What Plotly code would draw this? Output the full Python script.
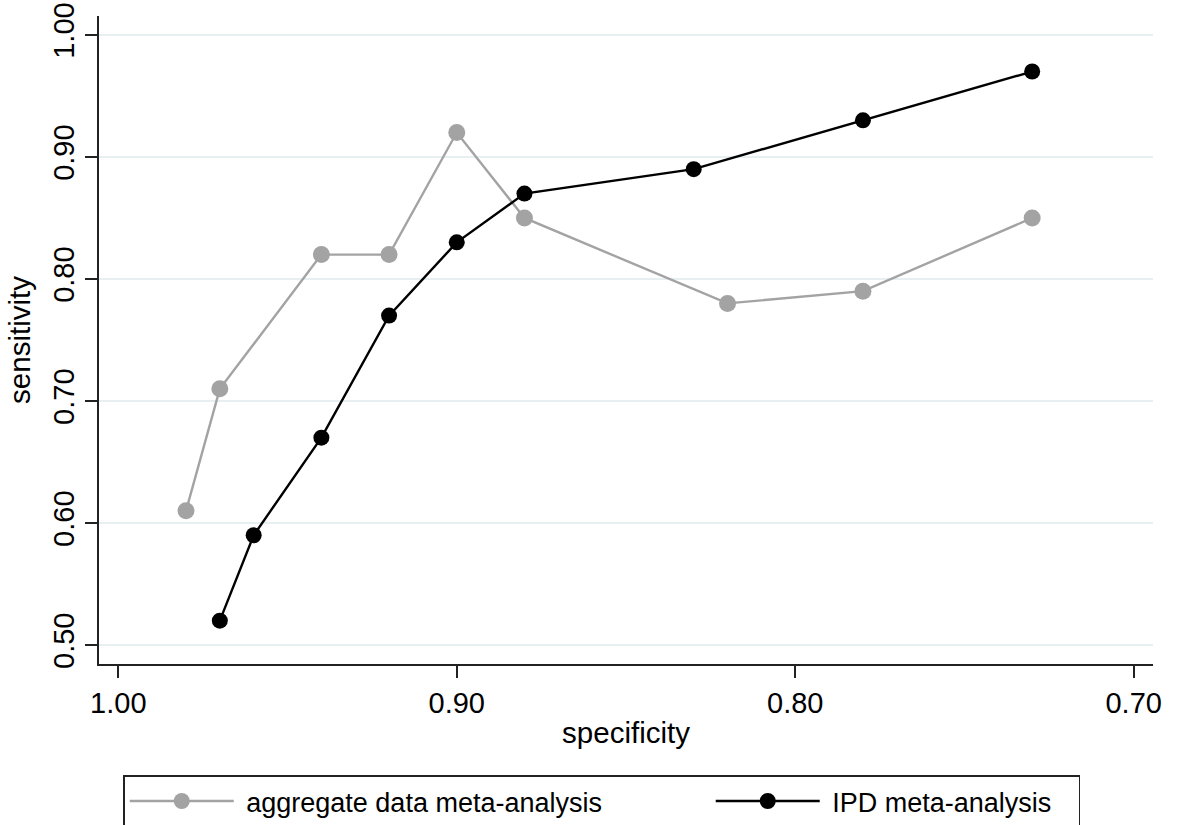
import plotly.graph_objects as go

# Summary ROC points: specificity (x) vs sensitivity (y)
spec_agg = [0.98, 0.97, 0.94, 0.92, 0.90, 0.88, 0.82, 0.78, 0.73]
sens_agg = [0.61, 0.71, 0.82, 0.82, 0.92, 0.85, 0.78, 0.79, 0.85]

spec_ipd = [0.97, 0.96, 0.94, 0.92, 0.90, 0.88, 0.83, 0.78, 0.73]
sens_ipd = [0.52, 0.59, 0.67, 0.77, 0.83, 0.87, 0.89, 0.93, 0.97]

x_ticks = [1.00, 0.90, 0.80, 0.70]
y_ticks = [0.50, 0.60, 0.70, 0.80, 0.90, 1.00]

FONT = "Liberation Sans, Arial, sans-serif"
NBSP = "\u00a0"

fig = go.Figure()
fig.add_trace(go.Scatter(
    x=spec_agg, y=sens_agg, mode="lines+markers",
    name=NBSP + "aggregate data meta-analysis",
    legendwidth=467,
    line=dict(color="#a3a3a3", width=2.4),
    marker=dict(color="#a3a3a3", size=17),
))
fig.add_trace(go.Scatter(
    x=spec_ipd, y=sens_ipd, mode="lines+markers",
    name=NBSP + "IPD meta-analysis",
    legendwidth=249,
    line=dict(color="#000000", width=2.4),
    marker=dict(color="#000000", size=16),
))

fig.update_layout(
    width=1180, height=825,
    margin=dict(l=99, r=27, t=16, b=161, autoexpand=False),
    paper_bgcolor="white", plot_bgcolor="white",
    font=dict(family=FONT, size=28, color="black"),
    showlegend=True,
    legend=dict(
        orientation="h",
        x=0.023, xanchor="left",
        y=-0.172, yanchor="top",
        bordercolor="#222222", borderwidth=1.5,
        font=dict(size=27),
        itemwidth=104,
        bgcolor="white",
    ),
)

fig.update_xaxes(
    range=[1.0057, 0.6943],
    tickvals=x_ticks, tickformat=".2f",
    ticks="outside", ticklen=12, tickwidth=1.5, tickcolor="#222222",
    showline=True, linecolor="#222222", linewidth=1.5,
    showgrid=False, zeroline=False, automargin=False,
    tickfont=dict(size=29),
    title=dict(text="specificity", font=dict(size=29.5), standoff=5),
)
fig.update_yaxes(
    range=[0.4845, 1.0155],
    tickvals=y_ticks, tickformat=".2f", tickangle=-90,
    ticks="outside", ticklen=12, tickwidth=1.5, tickcolor="#222222",
    showline=True, linecolor="#222222", linewidth=1.5,
    showgrid=True, gridcolor="#e7eff1", gridwidth=1.5,
    zeroline=False, automargin=False,
    tickfont=dict(size=29),
    title=dict(text="sensitivity", font=dict(size=29.5), standoff=8),
)

fig.write_html("out.html")
